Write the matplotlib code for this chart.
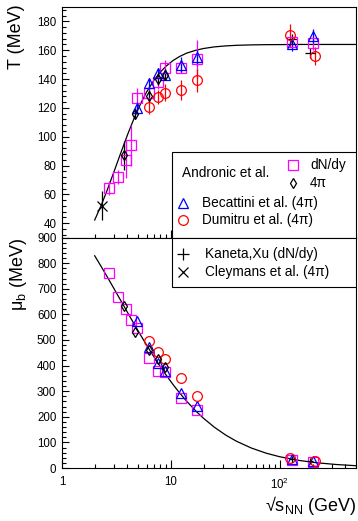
import matplotlib
matplotlib.use("Agg")
import matplotlib.pyplot as plt
from matplotlib.patches import Rectangle
from matplotlib.ticker import MultipleLocator, FixedLocator, FixedFormatter

plt.rcParams['font.family'] = ['Liberation Sans', 'DejaVu Sans']
plt.rcParams['mathtext.fontset'] = 'custom'
plt.rcParams['mathtext.rm'] = 'Liberation Sans'
plt.rcParams['mathtext.it'] = 'Liberation Sans:italic'

# Andronic et al. dN/dy (open squares)
sq_e = [2.7, 3.3, 3.84, 4.32, 4.84, 6.27, 7.62, 8.77, 12.3, 17.3, 130, 200]
sq_T = [64.5, 72, 84, 94, 126.5, 130.5, 138, 148, 148, 154, 166, 165]
sq_Terr = [5, 5, 13, 14, 7, 5, 5, 5, 4, 13, 4, 5]
sq_mu = [760, 666, 620, 578, 545, 430, 380, 375, 275, 225, 32, 23]

# Andronic et al. 4pi (diamonds)
di_e = [3.7, 4.68, 6.27, 7.62, 8.77]
di_T = [87, 116, 128.5, 140, 143]
di_Terr = [10, 4, 4, 4, 4]
di_mu = [631, 533, 462, 425, 396]

# Becattini et al. (triangles)
tr_e = [4.84, 6.27, 7.62, 8.77, 12.3, 17.3, 130, 200]
tr_T = [120, 137, 144, 143, 150, 155, 164.5, 170]
tr_Terr = [4, 4, 4, 4, 5, 5, 5, 5]
tr_mu = [576, 472, 410, 377, 292, 243, 36, 26]

# Dumitru et al. (circles)
ci_e = [6.27, 7.62, 8.77, 12.3, 17.3, 125, 210]
ci_T = [120.5, 127.5, 130.5, 132.5, 139, 170.5, 156]
ci_Terr = [5, 5, 6, 7, 8, 8, 6]
ci_mu = [495, 453, 425, 353, 280, 41, 29]

# Kaneta, Xu (plus)
kx_e = [130, 190]
kx_T = [168, 158]
kx_mu = [35, 26]

# Cleymans et al. (cross)
cl_e = [2.32]
cl_T = [52]
cl_Terr = [10]

# parametrisation curves
cv_e = [2, 2.3, 2.6, 3, 3.5, 4, 4.6, 5.3, 6, 7, 8, 9, 10.5, 12, 14, 17, 20,
        25, 32, 40, 55, 75, 100, 150, 220, 330, 500]
cv_T = [42.2, 52.6, 62.8, 75.5, 89.5, 101.3, 112.8, 123.2, 131.1, 139.2, 144.8,
        148.8, 152.9, 155.6, 158.0, 160.0, 161.2, 162.3, 163.0, 163.4, 163.7,
        163.85, 163.9, 164.0, 164.0, 164.0, 164.0]
cv_mu = [828.9, 786.0, 747.3, 701.3, 651.2, 607.7, 562.7, 517.9, 479.8, 434.0,
         396.3, 364.6, 325.5, 294.0, 260.4, 222.3, 193.9, 159.9, 128.3, 104.7,
         77.9, 58.0, 44.0, 29.7, 20.4, 13.7, 9.05]

fig = plt.figure(figsize=(3.58, 5.21), dpi=100)
ax1 = fig.add_axes([0.173, 0.544, 0.821, 0.4426])
ax2 = fig.add_axes([0.173, 0.1017, 0.821, 0.4423])

mk = dict(fillstyle='none', linestyle='none', markeredgewidth=0.9)
eb = dict(elinewidth=0.9, capsize=0)

for ax in (ax1, ax2):
    ax.set_xscale('log')
    ax.set_xlim(1, 500)
    for s in ax.spines.values():
        s.set_linewidth(0.8)
    ax.tick_params(which='both', direction='in', top=False, right=False,
                   labelsize=8.3, width=0.8)
    ax.tick_params(axis='y', which='major', length=5, pad=4)
    ax.tick_params(axis='y', which='minor', length=3)
    ax.tick_params(axis='x', which='major', length=6)
    ax.tick_params(axis='x', which='minor', length=3)

# top panel: T
ax1.plot(cv_e, cv_T, color='black', lw=0.9, zorder=1)
ax1.errorbar(sq_e, sq_T, yerr=sq_Terr, color='#ff00ff', marker='s', ms=7, **mk, **eb)
ax1.errorbar(tr_e, tr_T, yerr=tr_Terr, color='#0000ff', marker='^', ms=7, **mk, **eb)
ax1.errorbar(ci_e, ci_T, yerr=ci_Terr, color='#ff0000', marker='o', ms=7, **mk, **eb)
ax1.errorbar(di_e, di_T, yerr=di_Terr, color='black', marker='d', ms=5.5, **mk, **eb)
ax1.plot(kx_e, kx_T, color='black', marker='+', ms=7, **mk)
ax1.errorbar(cl_e, cl_T, yerr=cl_Terr, color='black', marker='x', ms=7, **mk, **eb)
ax1.set_ylim(30, 190)
ax1.yaxis.set_major_locator(FixedLocator(list(range(40, 181, 20))))
ax1.yaxis.set_minor_locator(MultipleLocator(4))
ax1.tick_params(axis='x', labelbottom=False)

# bottom panel: mu_B
ax2.plot(cv_e, cv_mu, color='black', lw=0.9, zorder=1)
ax2.plot(sq_e, sq_mu, color='#ff00ff', marker='s', ms=7, **mk)
ax2.plot(tr_e, tr_mu, color='#0000ff', marker='^', ms=7, **mk)
ax2.plot(ci_e, ci_mu, color='#ff0000', marker='o', ms=7, **mk)
ax2.plot(di_e, di_mu, color='black', marker='d', ms=5.5, **mk)
ax2.plot(kx_e, kx_mu, color='black', marker='+', ms=5, **mk)
ax2.set_ylim(0, 900)
ax2.yaxis.set_major_locator(MultipleLocator(100))
ax2.yaxis.set_minor_locator(MultipleLocator(20))
ax2.xaxis.set_major_locator(FixedLocator([1, 10, 100]))
ax2.xaxis.set_major_formatter(FixedFormatter(['1', '10', '$10^2$']))
ax2.tick_params(axis='x', pad=6)

# legend top
fs = 9.8
ax1.add_patch(Rectangle((0.374, 0), 0.626, 0.371, transform=ax1.transAxes,
                        facecolor='white', edgecolor='black', lw=0.8, zorder=5))
lt = dict(transform=ax1.transAxes, zorder=6, clip_on=False)
ax1.text(0.407, 0.279, 'Andronic et al.', fontsize=fs, va='center', ha='left', **lt)
ax1.plot([0.787], [0.315], color='#ff00ff', marker='s', ms=7, **mk, **lt)
ax1.text(0.844, 0.315, 'dN/dy', fontsize=fs, va='center', ha='left', **lt)
ax1.plot([0.787], [0.235], color='black', marker='d', ms=5.5, **mk, **lt)
ax1.text(0.844, 0.235, '4π', fontsize=fs, va='center', ha='left', **lt)
ax1.plot([0.413], [0.148], color='#0000ff', marker='^', ms=7, **mk, **lt)
ax1.text(0.477, 0.148, 'Becattini et al. (4π)', fontsize=fs, va='center', ha='left', **lt)
ax1.plot([0.413], [0.076], color='#ff0000', marker='o', ms=7, **mk, **lt)
ax1.text(0.477, 0.076, 'Dumitru et al. (4π)', fontsize=fs, va='center', ha='left', **lt)

# legend bottom
ax2.add_patch(Rectangle((0.374, 0.785), 0.626, 0.215, transform=ax2.transAxes,
                        facecolor='white', edgecolor='black', lw=0.8, zorder=5))
lb = dict(transform=ax2.transAxes, zorder=6, clip_on=False)
ax2.plot([0.413], [0.928], color='black', marker='+', ms=8, **mk, **lb)
ax2.text(0.486, 0.928, 'Kaneta,Xu (dN/dy)', fontsize=fs, va='center', ha='left', **lb)
ax2.plot([0.413], [0.849], color='black', marker='x', ms=7, **mk, **lb)
ax2.text(0.486, 0.849, 'Cleymans et al. (4π)', fontsize=fs, va='center', ha='left', **lb)

# axis titles
fig.text(0.045, 0.992, 'T (MeV)', rotation=90, ha='center', va='top', fontsize=13)
fig.text(0.052, 0.543, 'μ$_{\\rm b}$ (MeV)', rotation=90, ha='center', va='top', fontsize=13)
fig.text(0.997, 0.008, '√s$_{\\rm NN}$ (GeV)', ha='right', va='bottom', fontsize=13)

fig.savefig('out.png', dpi=100)
